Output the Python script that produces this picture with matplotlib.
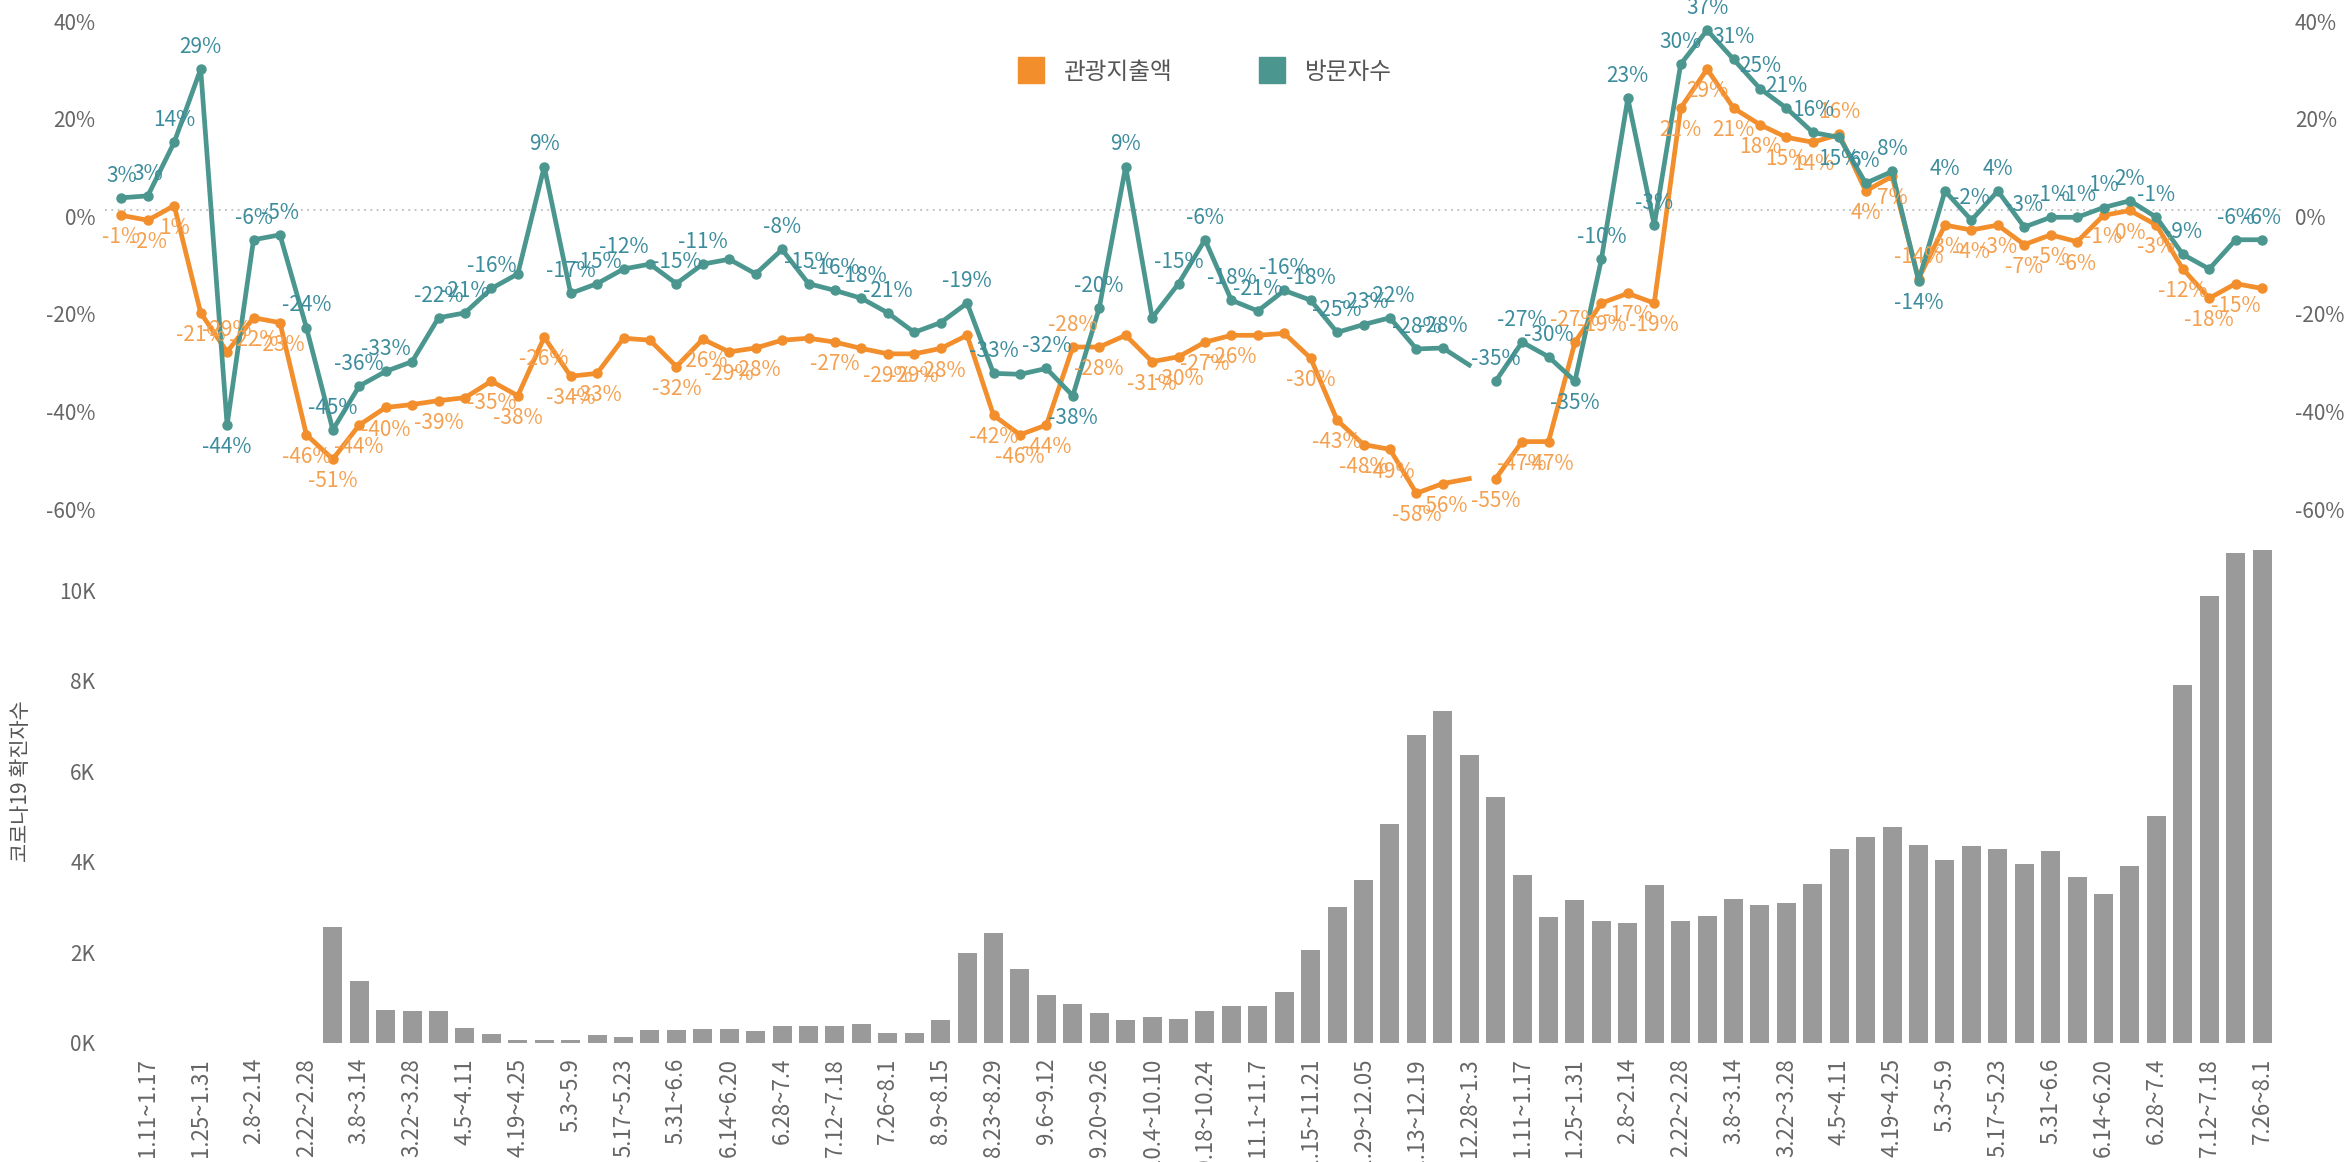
import numpy as np
import matplotlib
matplotlib.use('Agg')
import matplotlib.pyplot as plt
import matplotlib.transforms as mtransforms
from matplotlib.lines import Line2D

plt.rcParams['font.family'] = ['Noto Sans CJK KR', 'DejaVu Sans']

# weekly periods (x axis of the bar chart)
weeks = ['1.11~1.17', '1.18~1.24', '1.25~1.31', '2.1~2.7', '2.8~2.14', '2.15~2.21', '2.22~2.28',
	'3.1~3.7', '3.8~3.14', '3.15~3.21', '3.22~3.28', '3.29~4.4', '4.5~4.11', '4.12~4.18',
	'4.19~4.25', '4.26~5.2', '5.3~5.9', '5.10~5.16', '5.17~5.23', '5.24~5.30', '5.31~6.6',
	'6.7~6.13', '6.14~6.20', '6.21~6.27', '6.28~7.4', '7.5~7.11', '7.12~7.18', '7.19~7.25',
	'7.26~8.1', '8.2~8.8', '8.9~8.15', '8.16~8.22', '8.23~8.29', '8.30~9.5', '9.6~9.12',
	'9.13~9.19', '9.20~9.26', '9.27~10.3', '10.4~10.10', '10.11~10.17', '10.18~10.24',
	'10.25~10.31', '11.1~11.7', '11.8~11.14', '11.15~11.21', '11.22~11.28', '11.29~12.05',
	'12.6~12.12', '12.13~12.19', '12.20~12.27', '12.28~1.3', '1.4~1.10', '1.11~1.17',
	'1.18~1.24', '1.25~1.31', '2.1~2.7', '2.8~2.14', '2.15~2.21', '2.22~2.28', '3.1~3.7',
	'3.8~3.14', '3.15~3.21', '3.22~3.28', '3.29~4.4', '4.5~4.11', '4.12~4.18', '4.19~4.25',
	'4.26~5.2', '5.3~5.9', '5.10~5.16', '5.17~5.23', '5.24~5.30', '5.31~6.6', '6.7~6.13',
	'6.14~6.20', '6.21~6.27', '6.28~7.4', '7.5~7.11', '7.12~7.18', '7.19~7.25', '7.26~8.1']

# weekly covid-19 confirmed cases
cases = [0, 0, 0, 0, 0, 0, 0, 2550, 1360, 730, 700, 700, 330, 200, 60, 50, 50, 180, 120, 270,
	280, 300, 300, 260, 360, 360, 360, 420, 220, 220, 500, 1990, 2420, 1620, 1060, 860, 660,
	500, 560, 530, 700, 800, 800, 1130, 2050, 3000, 3600, 4840, 6790, 7320, 6360, 5430, 3710,
	2780, 3150, 2680, 2650, 3480, 2680, 2810, 3180, 3050, 3080, 3510, 4270, 4540, 4770, 4370,
	4040, 4340, 4270, 3940, 4240, 3670, 3280, 3910, 5000, 7910, 9870, 10830, 10890]

# year-on-year change (%), starts one week before the bar chart
visitors = [2.6, 3, 14, 29, -44, -6, -5, -24, -45, -36,
	-33, -31, -22, -21, -16, -13, 9, -17, -15, -12,
	-11, -15, -11, -10, -13, -8, -15, -16.4, -18, -21,
	-25, -23, -19, -33.4, -33.6, -32.4, -38, -20, 9, -22,
	-15, -6, -18.4, -20.6, -16.4, -18.4, -25, -23.4, -22, -28.4,
	-28.2, -31.7, -35, -27, -30, -35, -10, 23, -3, 30,
	37, 31, 25, 21, 16, 15, 5.6, 8, -14.4, 4,
	-2, 4, -3.4, -1.4, -1.4, 0.6, 2, -1.4, -9, -12,
	-6, -6]
spending = [-1, -2, 1, -21, -29, -22, -23, -46, -51, -44,
	-40.4, -39.8, -39, -38.4, -35, -38, -26, -34, -33.4, -26.2,
	-26.6, -32, -26.4, -29, -28.2, -26.6, -26.2, -27, -28.3, -29.4,
	-29.4, -28.3, -25.6, -42, -46, -44, -28, -28, -25.6, -31,
	-30, -27, -25.6, -25.6, -25.2, -30.3, -43, -48, -49, -58,
	-56, -55, -55, -47.4, -47.4, -27, -19, -17, -19, 21,
	29, 21, 17.6, 15, 14, 15.6, 4, 7, -14, -3,
	-4, -3, -7, -5, -6.4, -1, 0, -3, -12, -18,
	-15, -16]

# the lines break at the turn of the year
break_at = 52
visitors_hidden = [11, 15, 20, 23, 24, 30, 31, 34, 39, 51, 79]
spending_hidden = [11, 13, 19, 20, 25, 26, 28, 32, 38, 43, 44, 51, 81]

c_orange = '#F28E2B'
c_teal = '#4B978F'
c_orange_lbl = '#F5A04F'
c_teal_lbl = '#3B8C9C'
c_axis = '#666666'

fig = plt.figure(figsize=(23.49, 11.62), dpi=100)
ax1 = fig.add_axes([0.0447, 0.5671, 0.9281, 0.4196])
ax2 = fig.add_axes([0.0447, 0.1027, 0.9281, 0.4283])
xlim = (-1.62, 80.87)

# --- top: year-on-year lines ---
xs = np.arange(len(visitors)) - 1
vis = np.array(visitors, dtype=float)
spd = np.array(spending, dtype=float)
ax1.axhline(0, color='#BDBDBD', linestyle=(0, (1, 2.5)), linewidth=1.3, zorder=1)
for sl in (slice(0, break_at), slice(break_at, None)):
	ax1.plot(xs[sl], spd[sl], color=c_orange, linewidth=3.4, zorder=3, solid_joinstyle='round')
	ax1.plot(xs[sl], vis[sl], color=c_teal, linewidth=3.4, zorder=4, solid_joinstyle='round')
mk = [i for i in range(len(xs)) if i != break_at - 1]
ax1.plot(xs[mk], spd[mk], 'o', color=c_orange, markersize=6.5, zorder=3)
ax1.plot(xs[mk], vis[mk], 'o', color=c_teal, markersize=6.5, zorder=4)

for i in range(len(xs)):
	v, s = vis[i], spd[i]
	if i not in visitors_hidden:
		up = v >= s
		ax1.annotate('%d%%' % round(v), (xs[i], v), xytext=(0, 8 if up else -8),
			textcoords='offset points', ha='center', va='bottom' if up else 'top',
			fontsize=15, color=c_teal_lbl, zorder=6)
	if i not in spending_hidden:
		up = s > v
		ax1.annotate('%d%%' % round(s), (xs[i], s), xytext=(0, 8 if up else -8),
			textcoords='offset points', ha='center', va='bottom' if up else 'top',
			fontsize=15, color=c_orange_lbl, zorder=5)

ax1.set_xlim(xlim)
ax1.set_ylim(-60, 40)
ax1.set_yticks([-60, -40, -20, 0, 20, 40])
ax1.set_yticklabels(['%d%%' % t for t in [-60, -40, -20, 0, 20, 40]])
ax1.tick_params(axis='y', length=0, labelsize=15, labelcolor=c_axis, pad=7,
	labelleft=True, labelright=True)
ax1.set_xticks([])
# the axis labels sit a little below their gridlines
shift = mtransforms.ScaledTranslation(0, -6 / 100, fig.dpi_scale_trans)
for t in ax1.yaxis.get_major_ticks():
	t.label1.set_transform(t.label1.get_transform() + shift)
	t.label2.set_transform(t.label2.get_transform() + shift)
for sp in ax1.spines.values():
	sp.set_visible(False)

handles = [Line2D([], [], marker='s', linestyle='none', color=c_orange, markersize=19),
	Line2D([], [], marker='s', linestyle='none', color=c_teal, markersize=19)]
fig.legend(handles, ['관광지출액', '방문자수'], loc='center', bbox_to_anchor=(0.5106, 0.938),
	ncol=2, frameon=False, fontsize=17, handletextpad=0.4, columnspacing=3.2,
	labelcolor='#555555')

# --- bottom: weekly cases ---
xb = np.arange(len(cases))
ax2.bar(xb, cases, width=0.72, color='#9A9A9A', zorder=2)
ax2.set_xlim(xlim)
ax2.set_ylim(0, 11000)
ax2.set_yticks(range(0, 10001, 2000))
ax2.set_yticklabels(['%dK' % (t // 1000) for t in range(0, 10001, 2000)])
ax2.set_xticks(xb[::2])
ax2.set_xticklabels(weeks[::2], rotation=90)
ax2.tick_params(axis='y', length=0, labelsize=15, labelcolor=c_axis, pad=7)
ax2.tick_params(axis='x', length=0, labelsize=16, labelcolor=c_axis, pad=11)
for sp in ax2.spines.values():
	sp.set_visible(False)
fig.text(0.009, 0.328, '코로나19 확진자수', rotation=90, ha='center', va='center',
	fontsize=15, color='#555555')

fig.savefig('out.png', dpi=100, facecolor='white')
